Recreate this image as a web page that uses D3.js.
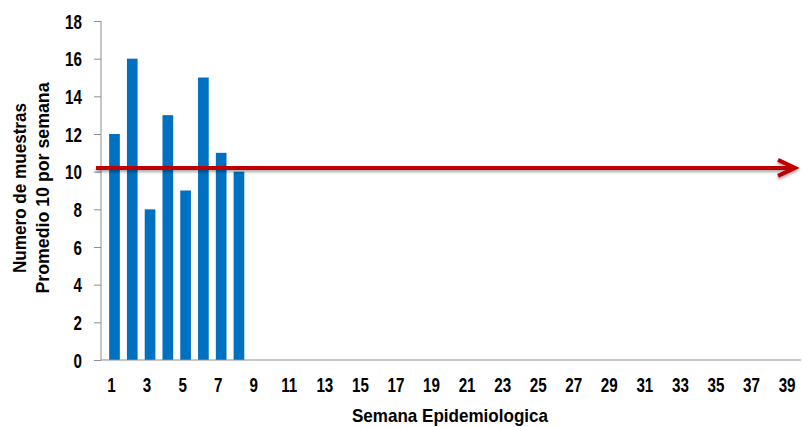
<!DOCTYPE html>
<html>
<head>
<meta charset="utf-8">
<script src="https://cdn.jsdelivr.net/npm/d3@7"></script>
<style>
  html, body { margin: 0; padding: 0; background: #fff; }
  svg { display: block; }
  text { font-family: "Liberation Sans Narrow", "Arial Narrow", "Liberation Sans", Arial, sans-serif; font-weight: bold; fill: #000; }
</style>
</head>
<body>
<svg id="chart" width="802" height="427"></svg>
<script>
// ---- data ----
const semanas = d3.range(1, 40).map(String);            // categories 1..39
const muestras = [12, 16, 8, 13, 9, 15, 11, 10];         // weeks 1..8 (rest empty)
const promedio = 10.2;                                   // average reference line
const yTicks = [0, 2, 4, 6, 8, 10, 12, 14, 16, 18];
const xTickLabels = semanas.filter((d, i) => i % 2 === 0);
const yTitle = ["Numero de muestras", "Promedio 10 por semana"];
const xTitle = "Semana Epidemiologica";

const svg = d3.select("#chart");

const x = d3.scaleBand().domain(semanas).range([103.6, 797]).paddingInner(0.4).paddingOuter(0.2);
const y = d3.scaleLinear().domain([0, 18]).range([360, 21]);

// narrow-font imitation: compress glyphs horizontally
function condense(sel, factor) {
  sel.each(function () {
    const w = this.getComputedTextLength();
    d3.select(this).attr("textLength", w * factor).attr("lengthAdjust", "spacingAndGlyphs");
  });
}

// drop shadow filter for the arrow
const defs = svg.append("defs");
const f = defs.append("filter").attr("id", "shadow").attr("x", "-5%").attr("y", "-100%").attr("width", "110%").attr("height", "400%");
f.append("feDropShadow").attr("dx", 0).attr("dy", 2).attr("stdDeviation", 1.5).attr("flood-color", "#000").attr("flood-opacity", 0.35);

// bars
const data = muestras.map((v, i) => ({ k: semanas[i], v }));
svg.append("g").selectAll("rect").data(data).enter().append("rect")
  .attr("x", d => x(d.k) + 2)
  .attr("y", d => y(d.v))
  .attr("width", x.bandwidth())
  .attr("height", d => y(0) - y(d.v))
  .attr("fill", "#0070c0");

// y axis
const yAxis = svg.append("g").attr("transform", "translate(101,0)")
  .call(d3.axisLeft(y).tickValues(yTicks).tickSize(7).tickPadding(12).tickSizeOuter(0));
yAxis.select(".domain").attr("stroke", "#8c8c8c").attr("d", `M0,${y(18)}V${y(0)}`);
yAxis.selectAll(".tick line").attr("stroke", "#8c8c8c");
yAxis.selectAll(".tick text").attr("font-size", 20).attr("dy", "0.36em").call(condense, 0.76);

// x axis
const xAxis = svg.append("g").attr("transform", `translate(0,${y(0)})`)
  .call(d3.axisBottom(x).tickValues(xTickLabels).tickSize(0).tickPadding(18));
xAxis.select(".domain").attr("stroke", "#8c8c8c").attr("d", "M101,0H801");
xAxis.selectAll(".tick text").attr("font-size", 20).attr("dx", "-1").call(condense, 0.76);

// average arrow line
const lineY = y(promedio);
const arrowTip = 795;
svg.append("path")
  .attr("d", `M96,${lineY}H${arrowTip - 2}M${arrowTip - 17},${lineY - 8}L${arrowTip},${lineY}L${arrowTip - 17},${lineY + 8}`)
  .attr("fill", "none").attr("stroke", "#c00000").attr("stroke-width", 4)
  .attr("stroke-linejoin", "miter").attr("filter", "url(#shadow)");

// y title (two lines)
const ytG = svg.append("g").attr("transform", "translate(0,188) rotate(-90)");
ytG.append("text").attr("x", 0).attr("y", 26).attr("text-anchor", "middle").attr("font-size", 19)
  .text(yTitle[0]).attr("textLength", 170).attr("lengthAdjust", "spacingAndGlyphs");
ytG.append("text").attr("x", 0).attr("y", 49).attr("text-anchor", "middle").attr("font-size", 19)
  .text(yTitle[1]).attr("textLength", 211).attr("lengthAdjust", "spacingAndGlyphs");

// x title
svg.append("text").attr("x", 450).attr("y", 422).attr("text-anchor", "middle")
  .attr("font-size", 19).text(xTitle).attr("textLength", 196).attr("lengthAdjust", "spacingAndGlyphs");
</script>
</body>
</html>
